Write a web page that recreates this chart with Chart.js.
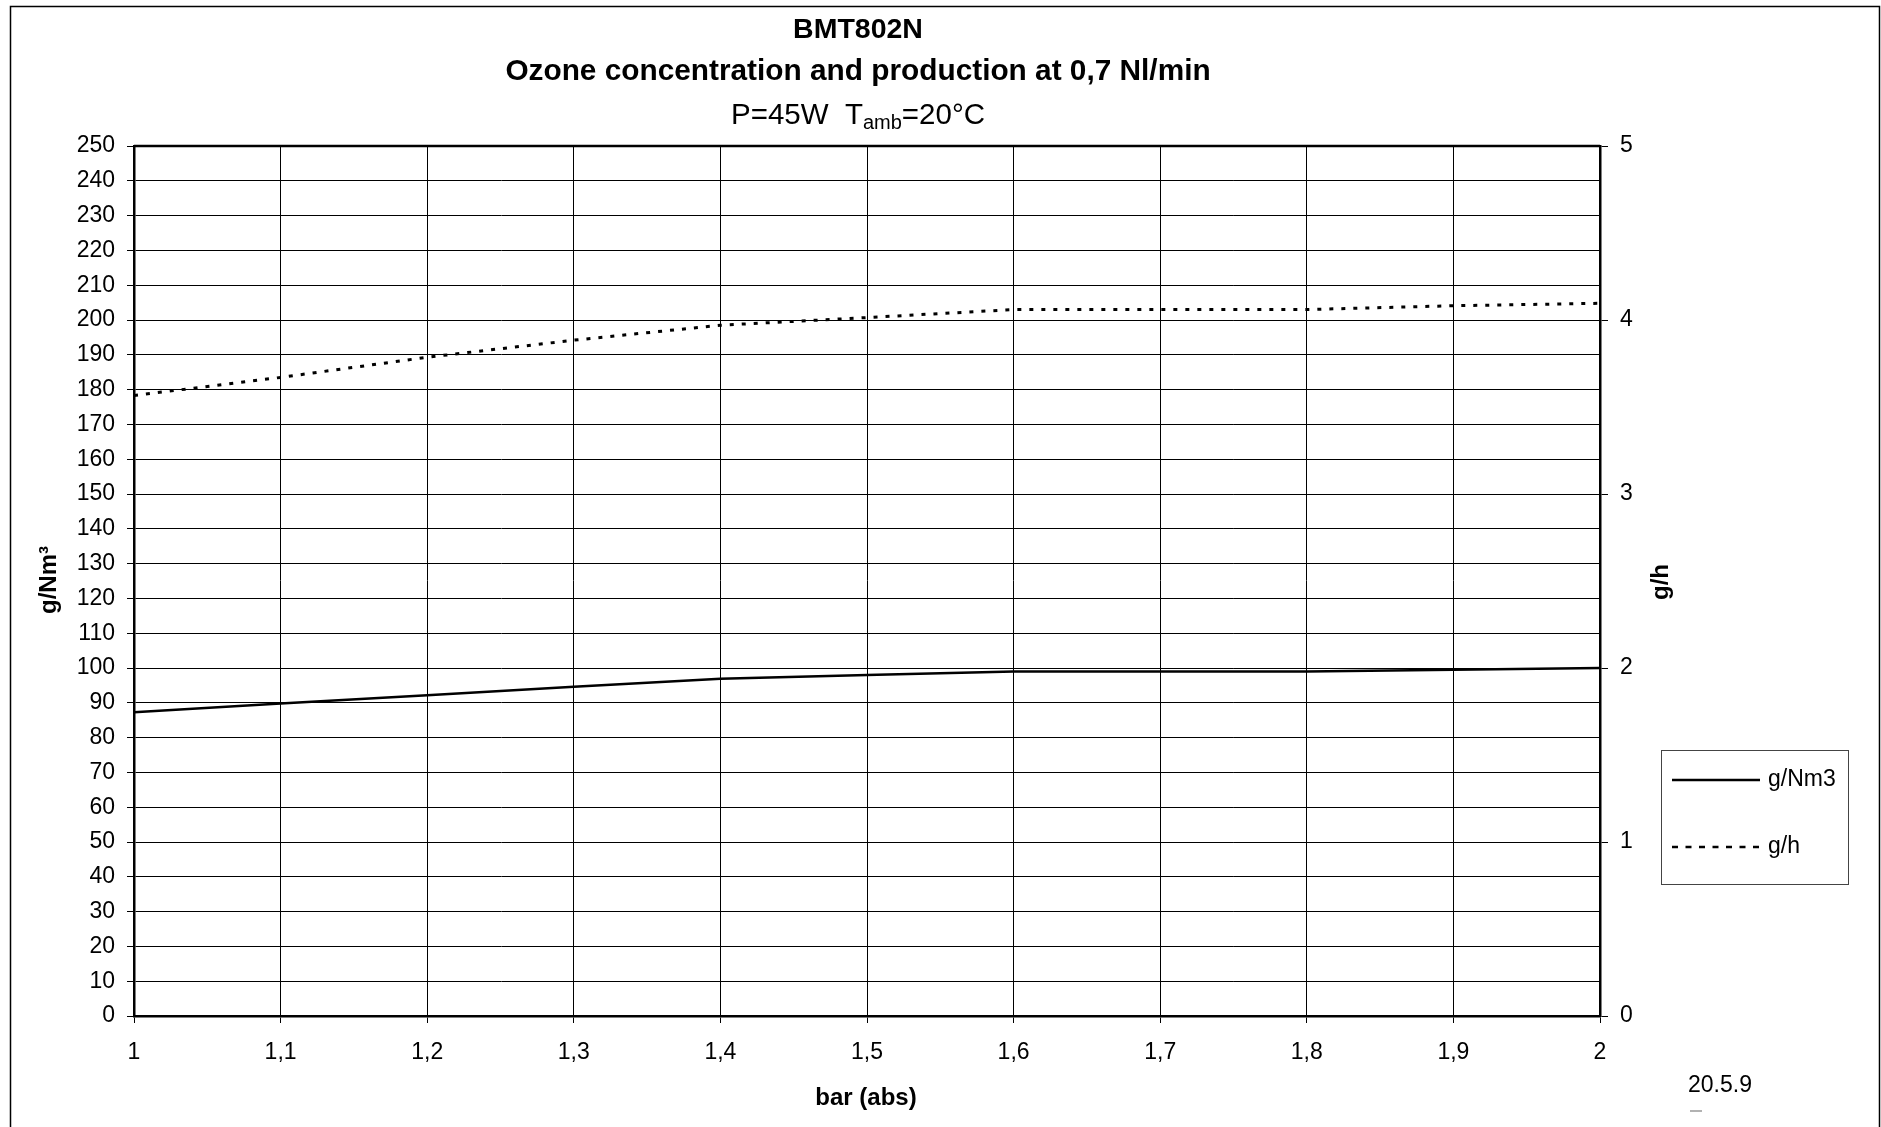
<!DOCTYPE html>
<html><head><meta charset="utf-8">
<script src="https://cdn.jsdelivr.net/npm/chart.js@4"></script>
<style>html,body{margin:0;padding:0;background:#fff;overflow:hidden}#wrap{width:1881px;height:1127px;position:relative}canvas{display:block}</style>
</head><body><div id="wrap"><canvas id="c" width="1881" height="1127"></canvas></div>
<script>
// ---- data ----
const pressures = [1, 1.1, 1.2, 1.3, 1.4, 1.5, 1.6, 1.7, 1.8, 1.9, 2];
const concentration = [87.3, 89.8, 92.2, 94.6, 96.9, 98, 99, 99, 99, 99.5, 100];
const production = [3.566, 3.67, 3.786, 3.884, 3.97, 4.014, 4.06, 4.06, 4.06, 4.082, 4.096];
const seriesNames = ['g/Nm3', 'g/h'];
const titleLines = ['BMT802N', 'Ozone concentration and production at 0,7 Nl/min'];
const subtitleParts = ['P=45W  T', 'amb', '=20°C'];
const xTitle = 'bar (abs)';
const yLeftTitle = 'g/Nm³';
const yRightTitle = 'g/h';
const dateNote = '20.5.9';

const FONT = '"Liberation Sans", Arial, sans-serif';

const overlay = {
  id: 'overlay',
  afterDraw(chart) {
    const ctx = chart.ctx, a = chart.chartArea;
    ctx.save();
    ctx.strokeStyle = '#000';
    ctx.lineWidth = 1.5;
    ctx.beginPath();
    ctx.moveTo(10.5, 1200); ctx.lineTo(10.5, 6.5); ctx.lineTo(1879.5, 6.5); ctx.lineTo(1879.5, 1200);
    ctx.stroke();
    // top of plot
    ctx.lineWidth = 2.5;
    ctx.beginPath(); ctx.moveTo(a.left, a.top); ctx.lineTo(a.right, a.top); ctx.stroke();

    ctx.fillStyle = '#000';
    ctx.textBaseline = 'middle';
    ctx.textAlign = 'center';
    ctx.font = 'bold 28.5px ' + FONT;
    ctx.fillText(titleLines[0], 858, 30);
    ctx.font = 'bold 29.8px ' + FONT;
    ctx.fillText(titleLines[1], 858, 72);

    // subtitle with subscript
    const sizes = [29.5, 20, 29.5], dys = [0, 7, 0];
    let widths = subtitleParts.map((t, i) => { ctx.font = sizes[i] + 'px ' + FONT; return ctx.measureText(t).width; });
    let x = 858 - widths.reduce((s, w) => s + w, 0) / 2;
    ctx.textAlign = 'left';
    subtitleParts.forEach((t, i) => { ctx.font = sizes[i] + 'px ' + FONT; ctx.fillText(t, x, 116 + dys[i]); x += widths[i]; });

    // axis titles
    ctx.textAlign = 'center';
    ctx.font = 'bold 24px ' + FONT;
    ctx.fillText(xTitle, 866, 1098);
    ctx.save(); ctx.translate(49, 580); ctx.rotate(-Math.PI / 2); ctx.fillText(yLeftTitle, 0, 0); ctx.restore();
    ctx.save(); ctx.translate(1661, 582); ctx.rotate(-Math.PI / 2); ctx.fillText(yRightTitle, 0, 0); ctx.restore();

    // legend
    ctx.strokeStyle = '#444'; ctx.lineWidth = 1;
    ctx.strokeRect(1661.5, 750.5, 187, 134);
    const rows = [780, 847];
    const legendDash = [[], [6, 7.5]];
    chart.data.datasets.forEach((ds, i) => {
      ctx.strokeStyle = ds.borderColor; ctx.lineWidth = 2.5;
      ctx.setLineDash(legendDash[i]);
      ctx.beginPath(); ctx.moveTo(1672, rows[i]); ctx.lineTo(1760, rows[i]); ctx.stroke();
      ctx.setLineDash([]);
      ctx.font = '23px ' + FONT; ctx.textAlign = 'left';
      ctx.fillText(ds.label, 1768, rows[i]);
    });

    // date note
    ctx.font = '23px ' + FONT; ctx.textAlign = 'left';
    ctx.fillText(dateNote, 1688, 1086);
    ctx.strokeStyle = '#999'; ctx.lineWidth = 1.5;
    ctx.beginPath(); ctx.moveTo(1690, 1111); ctx.lineTo(1702, 1111); ctx.stroke();
    ctx.restore();
  }
};

const fmtX = v => Number(v.toFixed(1)).toString().replace('.', ',');

new Chart(document.getElementById('c'), {
  type: 'line',
  data: {
    datasets: [
      { label: seriesNames[0], data: pressures.map((p, i) => ({ x: p, y: concentration[i] })), yAxisID: 'y',
        borderColor: '#000', borderWidth: 2.5, pointRadius: 0, tension: 0, fill: false },
      { label: seriesNames[1], data: pressures.map((p, i) => ({ x: p, y: production[i] })), yAxisID: 'y2',
        borderColor: '#000', borderWidth: 3, borderDash: [4, 8], pointRadius: 0, tension: 0, fill: false }
    ]
  },
  options: {
    responsive: false, animation: false, devicePixelRatio: 1,
    layout: { padding: { top: 146, left: 0, right: 0, bottom: 0 } },
    plugins: { legend: { display: false }, tooltip: { enabled: false }, title: { display: false } },
    scales: {
      x: {
        type: 'linear', min: 1, max: 2,
        afterFit: s => { s.height = 111; },
        ticks: { stepSize: 0.1, callback: fmtX, color: '#000', font: { family: FONT, size: 23 }, padding: 16, maxRotation: 0, autoSkip: false },
        grid: { color: '#000', lineWidth: 1, tickLength: 7 },
        border: { display: true, color: '#000', width: 2.5 }
      },
      y: {
        position: 'left', min: 0, max: 250,
        afterFit: s => { s.width = 134; },
        ticks: { stepSize: 10, color: '#000', font: { family: FONT, size: 23 }, padding: 12, autoSkip: false },
        grid: { color: '#000', lineWidth: 1, tickLength: 7 },
        border: { display: true, color: '#000', width: 2.5 }
      },
      y2: {
        position: 'right', min: 0, max: 5,
        afterFit: s => { s.width = 281; },
        ticks: { stepSize: 1, color: '#000', font: { family: FONT, size: 23 }, padding: 12, autoSkip: false },
        grid: { drawOnChartArea: false, color: '#000', lineWidth: 1, tickLength: 8 },
        border: { display: true, color: '#000', width: 2.5 }
      }
    }
  },
  plugins: [overlay]
});
</script></body></html>
